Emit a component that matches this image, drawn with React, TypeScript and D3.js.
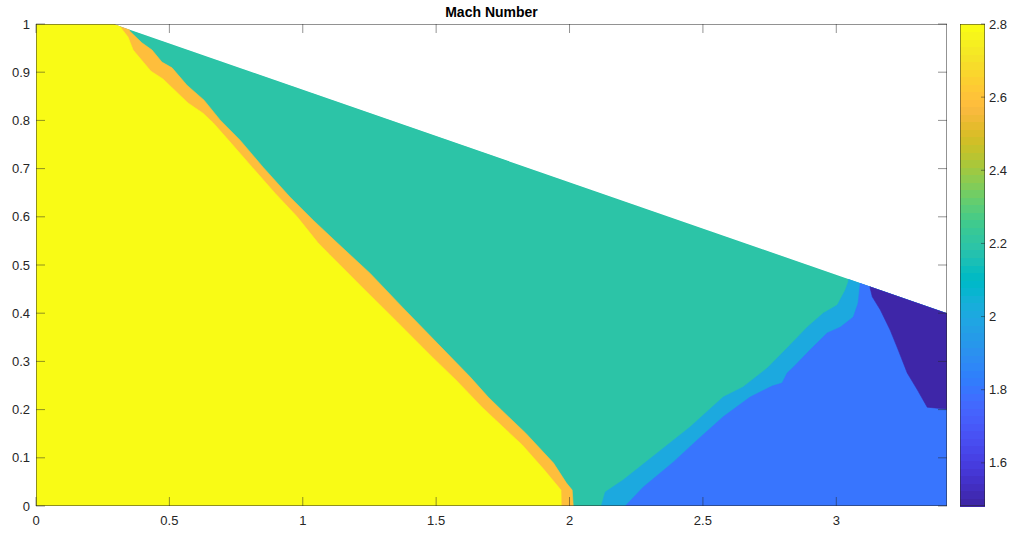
import React from "react";
import * as d3 from "d3";

// MATLAB parula(64) colormap
const PARULA: number[][] = [
  [0.2422, 0.1504, 0.6603], [0.2504, 0.165, 0.7076], [0.2578, 0.1818, 0.7511], [0.2647, 0.1978, 0.7952],
  [0.2706, 0.2147, 0.8364], [0.2751, 0.2342, 0.871], [0.2783, 0.2559, 0.8991], [0.2803, 0.2782, 0.9221],
  [0.2813, 0.3006, 0.9414], [0.281, 0.3228, 0.9579], [0.2795, 0.3447, 0.9717], [0.276, 0.3667, 0.9829],
  [0.2699, 0.3892, 0.9906], [0.2602, 0.4123, 0.9952], [0.244, 0.4358, 0.9988], [0.2206, 0.4603, 0.9973],
  [0.1963, 0.4847, 0.9892], [0.1834, 0.5074, 0.9798], [0.1786, 0.5289, 0.9682], [0.1764, 0.5499, 0.952],
  [0.1687, 0.5703, 0.9359], [0.154, 0.5902, 0.9218], [0.146, 0.6091, 0.9079], [0.138, 0.6276, 0.8973],
  [0.1248, 0.6459, 0.8883], [0.1113, 0.6635, 0.8763], [0.0952, 0.6798, 0.8598], [0.0689, 0.6948, 0.8394],
  [0.0297, 0.7082, 0.8163], [0.0036, 0.7203, 0.7917], [0.0067, 0.7312, 0.766], [0.0433, 0.7411, 0.7394],
  [0.0964, 0.75, 0.712], [0.1408, 0.7584, 0.6842], [0.1717, 0.767, 0.6554], [0.1938, 0.7758, 0.6251],
  [0.2161, 0.7843, 0.5923], [0.247, 0.7918, 0.5567], [0.2906, 0.7973, 0.5188], [0.3406, 0.8008, 0.4789],
  [0.3909, 0.8029, 0.4354], [0.4456, 0.8024, 0.3909], [0.5044, 0.7993, 0.348], [0.5616, 0.7942, 0.3045],
  [0.6174, 0.7876, 0.2612], [0.672, 0.7793, 0.2227], [0.7242, 0.7698, 0.191], [0.7738, 0.7598, 0.1646],
  [0.8203, 0.7498, 0.1535], [0.8634, 0.7406, 0.1596], [0.9035, 0.733, 0.1774], [0.9393, 0.7288, 0.21],
  [0.9728, 0.7298, 0.2394], [0.9956, 0.7434, 0.2371], [0.997, 0.7659, 0.2199], [0.9952, 0.7893, 0.2028],
  [0.9892, 0.8136, 0.1885], [0.9786, 0.8386, 0.1766], [0.9676, 0.8639, 0.1643], [0.961, 0.889, 0.1537],
  [0.9597, 0.9135, 0.1423], [0.9628, 0.9373, 0.1265], [0.9691, 0.9606, 0.1064], [0.9769, 0.9839, 0.0805],
];

// Colour limits of the Mach field
const C_MIN = 1.482;
const C_MAX = 2.8;

// Channel geometry: flat upper wall, then a straight converging wall
const X_MAX = 3.415;
const domain: [number, number][] = [[0, 0], [0, 1], [0.29, 1], [X_MAX, 0.4], [X_MAX, 0]];

// Mach level of each flow region
const freestreamMach = 2.8;
const shockBandMach = 2.58;
const postShockMach = 2.2;
const reflectedBandMach = 2.0;
const reflectedMach = 1.8;
const expansionMach = 1.482;

// Contour boundaries between regions (x, y)
const freestreamEdge: [number, number][] = [
  [0.3, 1.008], [0.307, 1.0], [0.345, 0.973], [0.364, 0.946], [0.431, 0.902], [0.476, 0.886],
  [0.57, 0.836], [0.626, 0.815], [0.664, 0.795], [0.731, 0.753], [0.81, 0.703], [0.896, 0.649],
  [0.979, 0.6], [1.057, 0.546], [1.102, 0.521], [1.226, 0.452], [1.354, 0.382], [1.478, 0.313],
  [1.575, 0.261], [1.672, 0.205], [1.71, 0.185], [1.822, 0.127], [1.905, 0.075], [1.968, 0.033],
  [1.969, 0.0], [1.969, -0.012],
];
const shockEdge: [number, number][] = [
  [0.341, 1.004], [0.352, 0.985], [0.397, 0.961], [0.435, 0.946], [0.472, 0.921], [0.51, 0.909],
  [0.566, 0.873], [0.63, 0.842], [0.69, 0.801], [0.765, 0.759], [0.851, 0.703], [0.952, 0.641],
  [1.039, 0.593], [1.129, 0.546], [1.252, 0.483], [1.376, 0.411], [1.504, 0.338], [1.627, 0.268],
  [1.695, 0.226], [1.745, 0.199], [1.836, 0.151], [1.94, 0.089], [1.988, 0.048], [2.01, 0.033],
  [2.014, 0.0], [2.014, -0.012],
];
const reflectedShockEdge: [number, number][] = [
  [2.115, -0.012], [2.119, 0.0], [2.134, 0.029], [2.201, 0.054], [2.329, 0.11], [2.452, 0.164],
  [2.576, 0.226], [2.651, 0.247], [2.741, 0.286], [2.816, 0.328], [2.891, 0.371], [2.951, 0.4],
  [3.004, 0.417], [3.034, 0.448], [3.045, 0.465], [3.049, 0.485],
];
const reflectedEdge: [number, number][] = [
  [2.209, -0.012], [2.209, 0.0], [2.276, 0.039], [2.389, 0.091], [2.479, 0.137], [2.576, 0.185],
  [2.677, 0.226], [2.76, 0.249], [2.797, 0.255], [2.816, 0.276], [2.839, 0.288], [2.902, 0.324],
  [2.966, 0.359], [3.015, 0.371], [3.064, 0.392], [3.082, 0.421], [3.09, 0.463], [3.094, 0.479],
];
const expansionEdge: [number, number][] = [
  [3.124, 0.473], [3.127, 0.452], [3.135, 0.434], [3.165, 0.407], [3.202, 0.365], [3.232, 0.324],
  [3.266, 0.276], [3.304, 0.241], [3.341, 0.205], [3.379, 0.203], [3.416, 0.201], [3.446, 0.201],
];

const xTicks = [0, 0.5, 1, 1.5, 2, 2.5, 3];
const yTicks = [0, 0.1, 0.2, 0.3, 0.4, 0.5, 0.6, 0.7, 0.8, 0.9, 1];
const cTicks = [1.6, 1.8, 2, 2.2, 2.4, 2.6, 2.8];

const W = 1013;
const H = 533;
const PLOT = { left: 36, right: 947, top: 24, bottom: 506 };
const CBAR = { left: 960, right: 985 };
const FONT = "'Liberation Sans', Arial, Helvetica, sans-serif";
const TEXT = "#262626";
const AXIS = "#262626";

function parulaColor(v: number): string {
  const n = PARULA.length;
  let i = Math.floor(((v - C_MIN) / (C_MAX - C_MIN)) * n);
  i = Math.max(0, Math.min(n - 1, i));
  const [r, g, b] = PARULA[i];
  return d3.rgb(r * 255, g * 255, b * 255).formatHex();
}

// Close an edge into a polygon that covers everything on one side of it
function sideOf(edge: [number, number][], xOut: number): [number, number][] {
  const first = edge[0];
  const last = edge[edge.length - 1];
  return [...edge, [xOut, last[1]], [xOut, first[1]]];
}

export default function App() {
  const x = d3.scaleLinear().domain([0, X_MAX]).range([PLOT.left, PLOT.right]);
  const y = d3.scaleLinear().domain([0, 1]).range([PLOT.bottom, PLOT.top]);
  const c = d3.scaleLinear().domain([C_MIN, C_MAX]).range([PLOT.bottom, PLOT.top]);

  const line = d3
    .line<[number, number]>()
    .x((d) => x(d[0]))
    .y((d) => y(d[1]));
  const closed = (pts: [number, number][]) => line(pts) + "Z";

  const layers = [
    { level: postShockMach, poly: domain },
    { level: shockBandMach, poly: sideOf(shockEdge, -0.05) },
    { level: freestreamMach, poly: sideOf(freestreamEdge, -0.05) },
    { level: reflectedBandMach, poly: sideOf(reflectedShockEdge, 3.5) },
    { level: reflectedMach, poly: sideOf(reflectedEdge, 3.5) },
    { level: expansionMach, poly: sideOf(expansionEdge, 3.5) },
  ];

  const nBands = PARULA.length;
  const step = (C_MAX - C_MIN) / nBands;
  const bands = d3.range(nBands).map((i) => ({
    lo: C_MIN + i * step,
    hi: C_MIN + (i + 1) * step,
    color: parulaColor(C_MIN + (i + 0.5) * step),
  }));

  const tickLen = 9;

  return (
    <svg
      width={W}
      height={H}
      style={{ position: "absolute", left: 0, top: 0, background: "#fff" }}
      fontFamily={FONT}
    >
      <defs>
        <clipPath id="flow-domain">
          <path d={closed(domain)} />
        </clipPath>
      </defs>

      <g clipPath="url(#flow-domain)">
        {layers.map((l, i) => (
          <path key={i} d={closed(l.poly)} fill={parulaColor(l.level)} stroke={parulaColor(l.level)} strokeWidth={0.6} strokeLinejoin="round" />
        ))}
      </g>

      {/* axes box */}
      <rect
        x={PLOT.left + 0.25}
        y={PLOT.top + 0.25}
        width={PLOT.right - PLOT.left - 0.5}
        height={PLOT.bottom - PLOT.top - 0.5}
        fill="none"
        stroke={AXIS}
        strokeWidth={0.5}
      />

      {/* x ticks */}
      {xTicks.map((t) => (
        <g key={"x" + t}>
          <line x1={x(t)} x2={x(t)} y1={PLOT.bottom} y2={PLOT.bottom - tickLen} stroke={AXIS} strokeWidth={0.5} />
          <line x1={x(t)} x2={x(t)} y1={PLOT.top} y2={PLOT.top + tickLen} stroke={AXIS} strokeWidth={0.5} />
          <text x={x(t)} y={PLOT.bottom + 19} textAnchor="middle" fontSize={13} fill={TEXT}>
            {String(t)}
          </text>
        </g>
      ))}

      {/* y ticks */}
      {yTicks.map((t) => (
        <g key={"y" + t}>
          <line x1={PLOT.left} x2={PLOT.left + tickLen} y1={y(t)} y2={y(t)} stroke={AXIS} strokeWidth={0.5} />
          <line x1={PLOT.right} x2={PLOT.right - tickLen} y1={y(t)} y2={y(t)} stroke={AXIS} strokeWidth={0.5} />
          <text x={PLOT.left - 6} y={y(t) + 4.5} textAnchor="end" fontSize={13} fill={TEXT}>
            {String(t)}
          </text>
        </g>
      ))}

      <text
        x={(PLOT.left + PLOT.right) / 2}
        y={PLOT.top - 7}
        textAnchor="middle"
        fontSize={14}
        fontWeight="bold"
        fill="#000"
      >
        Mach Number
      </text>

      {/* colorbar */}
      <g shapeRendering="crispEdges">
        {bands.map((b, i) => (
          <rect
            key={i}
            x={CBAR.left}
            y={c(b.hi)}
            width={CBAR.right - CBAR.left}
            height={c(b.lo) - c(b.hi) + 0.5}
            fill={b.color}
          />
        ))}
      </g>
      <rect
        x={CBAR.left + 0.25}
        y={PLOT.top + 0.25}
        width={CBAR.right - CBAR.left - 0.5}
        height={PLOT.bottom - PLOT.top - 0.5}
        fill="none"
        stroke={AXIS}
        strokeWidth={0.5}
      />
      {cTicks.map((t) => (
        <g key={"c" + t}>
          <line x1={CBAR.right} x2={CBAR.right - 4} y1={c(t)} y2={c(t)} stroke={AXIS} strokeWidth={0.5} />
          <text x={CBAR.right + 4} y={c(t) + 4.5} textAnchor="start" fontSize={13} fill={TEXT}>
            {String(t)}
          </text>
        </g>
      ))}
    </svg>
  );
}
